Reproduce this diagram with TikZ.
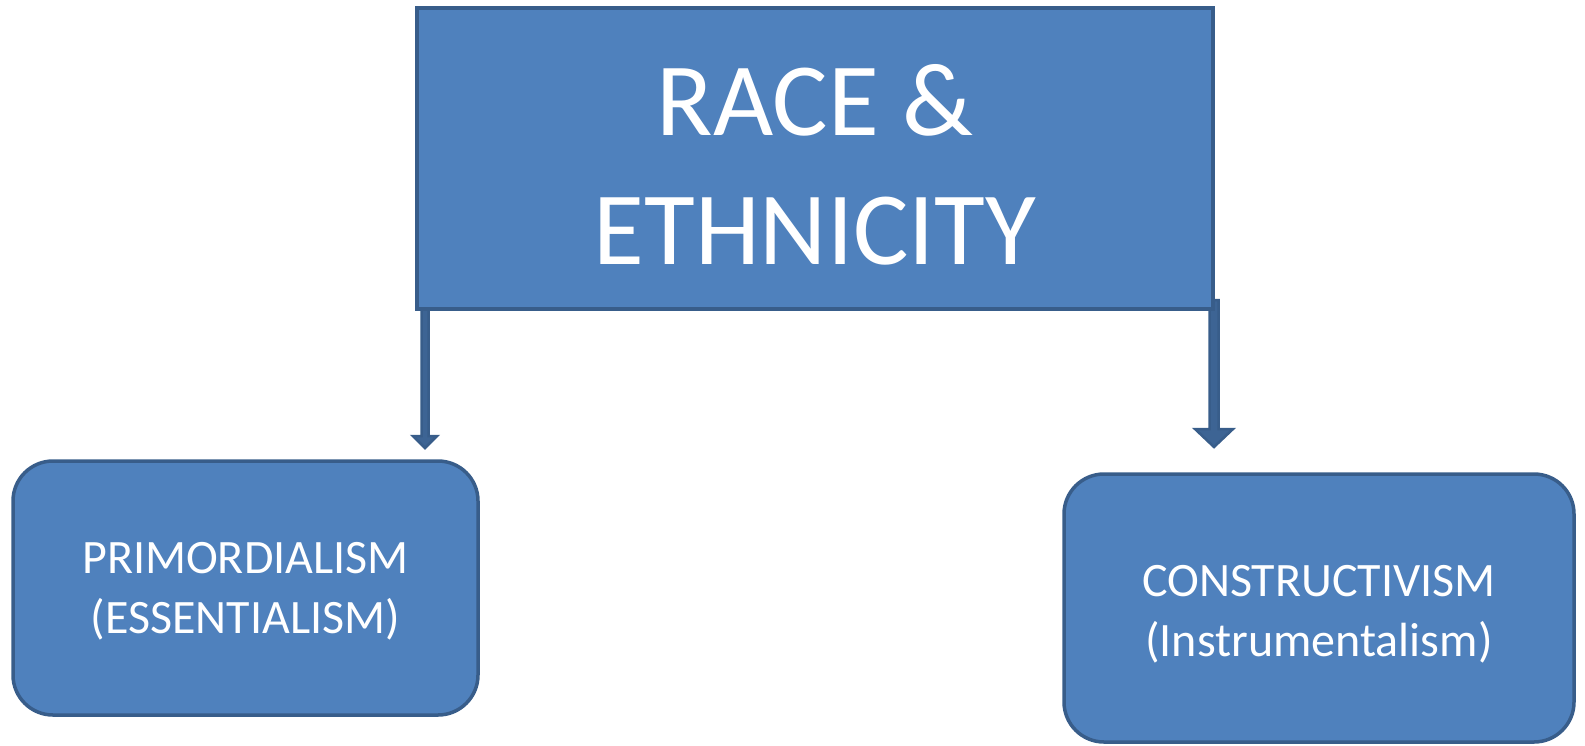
\documentclass[tikz,border=0pt]{standalone}
\usepackage{fontspec}
\setmainfont{Carlito}
\usetikzlibrary{calc}

\definecolor{boxfill}{HTML}{4F81BD}
\definecolor{boxline}{HTML}{385D8A}

\tikzset{
    titlebox/.style={draw=boxline,fill=boxfill,line width=3.5pt,text=white,align=center,
        minimum width=796pt,minimum height=301pt,font=\fontsize{104}{129}\selectfont},
    themebox/.style={draw=boxline,fill=boxfill,line width=3.5pt,text=white,align=center,
        rounded corners=40pt,font=\fontsize{48}{60}\selectfont},
    arrowbody/.style={draw=boxline,fill=boxline!80!boxfill,line width=2.5pt,line join=miter}
}

% block arrow: from, tip, half shaft, half head, head length
\newcommand{\blockarrow}[5]{
    \draw[arrowbody] ($(#1)+(-#3,0)$) -- ($(#2)+(-#3,-#5)$) -- ($(#2)+(-#4,-#5)$) -- (#2)
        -- ($(#2)+(#4,-#5)$) -- ($(#2)+(#3,-#5)$) -- ($(#1)+(#3,0)$) -- cycle;
}
% strut on the first line, pushes the text block down a little
\newcommand{\lift}[1]{\rule{0pt}{#1}}

\begin{document}
\begin{tikzpicture}[x=1pt,y=-1pt]
        \useasboundingbox (0,0) rectangle (1585,745);

        \coordinate (leftstart) at (425,300);
        \coordinate (lefttip) at (425,448);
        \coordinate (rightstart) at (1214,300);
        \coordinate (righttip) at (1214,447);
        \blockarrow{leftstart}{lefttip}{3.5}{12}{12}
        \blockarrow{rightstart}{righttip}{4.5}{19}{18}

        \node[titlebox] (race) at (815,158.5) {\lift{84pt}RACE \&\\ETHNICITY};
        \node[themebox,minimum width=465pt,minimum height=254pt] (primordial) at (245.5,588)
            {\lift{38pt}PRIMORDIALISM\\(ESSENTIALISM)};
        \node[themebox,minimum width=510pt,minimum height=268pt] (construct) at (1319,608)
            {\lift{44pt}CONSTRUCTIVISM\\(Instrumentalism)};
    \end{tikzpicture}
\end{document}
